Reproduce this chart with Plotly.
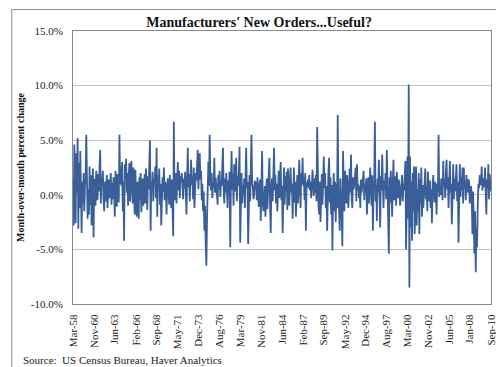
import pandas as pd
import plotly.graph_objects as go

# Monthly % change in manufacturers' new orders, Mar-1958 .. Sep-2010
start_month = "1958-03-01"
values = [
    1.5, -2.8, 4.6, 0.5, -2.6, 3.8, 0.2, 5.2, -3.1, 2.9, -1.2, 4.0,
    -2.0, -3.5, 1.2, -0.8, 2.0, -1.5, 0.8, 1.5, 5.5, -0.6, -2.2, 0.5,
    -1.8, 2.6, -0.9, 1.8, -2.8, 0.4, 2.4, -3.9, 1.5, 0.2, -1.0, 2.2,
    0.8, -0.5, 1.9, 0.3, 2.5, 4.1, -0.8, 1.6, 0.9, 2.2, -0.4, -1.5,
    1.2, -0.6, 0.8, 1.8, -1.2, 0.5, 1.4, -0.3, 0.9, 2.0, -0.9, 1.1,
    -0.4, 1.6, 0.3, -2.0, 2.2, 0.6, -1.1, 1.9, 0.4, -0.7, 5.5, 1.0,
    2.6, 0.8, 3.0, -1.5, 1.2, -4.2, 2.8, 1.5, 3.3, 0.2, 2.0, -1.0,
    1.8, 2.9, -0.6, 1.4, 3.1, 0.5, -0.8, 2.5, 1.0, -1.8, 2.3, 0.7,
    -2.0, 1.2, 0.3, -2.2, 1.6, -0.5, 2.0, -1.6, 0.8, 1.5, -1.0, 0.6,
    1.9, -0.8, 2.4, 0.2, -1.4, 1.7, 0.5, 2.8, 5.0, -3.3, 1.2, 0.4,
    2.1, -0.6, 1.5, 0.9, 2.6, -0.3, 4.3, -2.0, 1.8, 0.5, 2.4, -0.9,
    1.0, -2.8, 0.6, 1.6, 0.3, 2.5, -0.5, 1.2, 0.4, -1.8, 0.9, 1.5,
    0.2, -0.9, 1.8, 0.6, -1.2, 1.4, -0.4, -3.8, 6.7, -0.5, 1.3, 2.0,
    -0.8, 1.6, 3.0, 0.4, 2.2, -0.3, 1.7, 1.2, 2.0, 0.8, -0.4, 1.5,
    0.6, 2.1, -0.5, -1.8, 1.4, 4.3, 0.7, 1.9, -0.6, 2.4, 3.2, 0.9,
    1.7, -0.4, 2.5, -1.2, 0.8, 2.0, 1.3, 3.0, 4.1, 0.5, 2.6, 3.8,
    1.4, 2.2, -0.5, 1.0, -1.5, 0.3, -3.3, -1.0, -4.5, -6.5, -2.2, 1.8,
    3.0, 0.8, 5.5, 1.5, 0.4, 2.0, -0.3, 1.2, 0.6, 3.4, 0.2, 1.6,
    0.9, 0.3, -0.9, 1.8, 0.5, 2.2, -0.2, 1.1, 0.8, 2.6, 4.3, 0.6,
    -0.8, 1.5, 0.2, 2.0, -0.5, -1.2, 1.3, 0.4, 2.1, -4.8, 1.0, 4.0,
    0.5, 1.9, -1.0, 2.8, 0.3, 1.2, 3.4, -0.6, 1.7, 0.8, 2.2, 4.4,
    -4.4, 1.0, 2.0, -0.8, 0.9, 0.0, 1.5, -1.2, 2.5, 4.3, 0.6, 1.2,
    -4.5, 0.8, 1.8, -0.6, 2.2, 5.5, 1.0, 0.7, -0.4, 0.0, 1.3, 0.5,
    1.2, -0.5, 1.6, 0.3, -1.1, 0.9, 1.4, -2.4, 0.2, 4.0, -0.8, -1.5,
    -1.0, 0.8, -2.0, -0.4, 1.5, -1.3, 0.6, 2.0, 3.4, -0.9, -3.5, 0.7,
    1.5, -0.6, 2.4, 4.3, 0.4, 1.8, -0.8, 1.0, -1.5, 0.9, 2.2, -0.3,
    1.6, 3.0, -0.5, 0.8, -3.5, 1.2, 2.5, -0.9, 1.7, 0.3, 2.1, -1.4,
    2.4, 0.6, -1.0, 1.5, 2.5, 0.2, 1.0, -2.2, 0.9, 2.5, -0.7, 1.2,
    -2.0, 0.5, 1.8, -0.8, 1.3, 3.2, 0.4, -1.2, 2.0, 1.0, 3.4, 0.8,
    1.6, -0.5, 2.0, -3.3, 1.1, 0.9, 1.4, 0.6, 1.8, 0.4, 1.2, -0.3,
    0.8, 2.3, 1.0, -0.1, 1.5, 0.2, 1.8, -0.6, 6.2, 0.5, -1.0, -1.8,
    1.2, -2.5, 0.4, 1.9, -0.9, 1.5, 3.5, 0.6, 2.0, -1.2, 0.8, -3.3,
    0.5, 2.1, 3.4, -0.7, 1.6, -1.8, 0.9, -5.1, 0.3, 2.0, -1.5, 1.2,
    -2.5, 1.0, -1.2, 7.3, 0.4, -0.9, -3.3, 1.5, 0.2, -2.0, -4.7, 4.0,
    0.6, -1.5, 2.2, 0.3, -0.8, 1.8, 0.9, -1.2, 1.5, 2.4, 0.2, 3.7,
    -0.4, -1.2, 1.6, 0.5, 1.1, 2.0, 2.5, -0.6, 2.8, 0.4, 1.0, -0.3,
    0.8, -1.2, 1.4, 0.2, 0.9, 1.3, 2.2, -0.5, 1.0, 0.3, 1.5, -1.8,
    0.7, 1.6, -0.8, 1.2, 2.5, 0.4, -1.0, 1.8, -3.3, 0.6, 1.3, 6.7,
    -0.6, 0.9, -2.4, 1.5, 0.2, 3.2, -0.8, -3.0, 1.7, 0.4, 3.7, -0.9,
    -1.2, 1.3, 0.5, 2.0, -0.4, 4.1, 1.0, 0.3, -5.4, 1.6, -0.7, 2.2,
    0.4, -2.0, 1.2, 3.2, -0.5, 0.8, 1.7, -1.0, 2.1, 0.6, -0.3, 1.4,
    0.9, -1.0, 0.3, 1.2, 1.8, -0.6, 1.0, 0.4, 2.2, 3.1, -5.0, 0.8,
    3.5, -2.2, 10.1, -8.5, 3.5, -3.0, 1.2, -4.2, 2.0, -1.5, 2.6, -3.6,
    1.0, 2.6, -2.8, 0.5, -1.6, 2.0, -3.6, 1.4, -0.8, 2.5, -2.0, 0.9,
    -1.2, 0.6, 1.5, 2.4, -0.4, 0.8, -1.5, 2.1, 0.3, -0.6, 1.3, -1.2,
    0.5, -2.6, 0.9, 1.8, 0.2, -0.7, 1.2, 0.4, -1.8, 1.0, 0.3, 5.5,
    -0.2, 0.6, 0.0, 1.5, 1.2, -0.5, 3.1, 0.8, 1.4, -0.3, 2.0, 3.2,
    0.5, 1.6, -1.2, 0.9, 3.1, 0.2, 1.0, -2.7, 1.4, 2.8, -0.4, 1.5,
    0.3, 1.8, 2.8, -0.6, 1.2, -4.4, 0.7, 2.8, -0.2, 1.6, 0.4, 2.5,
    -0.8, 2.5, 0.6, 1.3, -0.5, 1.8, 0.9, 0.2, 1.4, 1.2, -0.8, 0.5,
    0.8, -0.5, -3.6, 0.3, -2.0, -5.4, -1.5, -7.1, -3.0, -4.8, -1.0, 1.0,
    0.6, 1.8, 0.9, 1.2, 2.6, 0.4, 1.0, 1.5, 0.7, 2.5, 0.3, -1.8,
    1.4, 0.6, 2.8, -0.4, 1.9, 0.8, 0.3,
]

tick_labels = ["Mar-58", "Nov-60", "Jun-63", "Feb-66", "Sep-68", "May-71", "Dec-73",
               "Aug-76", "Mar-79", "Nov-81", "Jun-84", "Feb-87", "Sep-89", "May-92",
               "Dec-94", "Aug-97", "Mar-00", "Nov-02", "Jun-05", "Jan-08", "Sep-10"]
y_ticks = [-10, -5, 0, 5, 10, 15]
y_tick_labels = ["-10.0%", "-5.0%", "0.0%", "5.0%", "10.0%", "15.0%"]

months = pd.date_range(start_month, periods=len(values), freq="MS").strftime("%b-%y").tolist()

W, H = 504, 367
L, R, T, B = 63, 21, 23, 71
pw, ph = W - L - R, H - T - B

def px(x):
    return (x - L) / pw

def py(y):
    return (H - B - y) / ph

fig = go.Figure()
fig.add_trace(go.Scatter(
    x=months, y=values, mode="lines",
    line=dict(color="#3A5F98", width=1.8),
    hoverinfo="skip", showlegend=False,
))

serif = "Liberation Serif, Times New Roman, serif"

fig.update_layout(
    width=W, height=H,
    margin=dict(l=L, r=R, t=T, b=B),
    paper_bgcolor="white",
    plot_bgcolor="rgba(0,0,0,0)",
    font=dict(family=serif, color="#222", size=11),
    title=dict(text="<b>Manufacturers' New Orders...Useful?</b>",
               x=px(250), xanchor="center", xref="paper",
               y=1 - 14 / H, yanchor="middle",
               font=dict(family=serif, size=14, color="#111")),
    xaxis=dict(type="category", range=[0, len(values) - 1],
               tickmode="array", tickvals=tick_labels, ticktext=tick_labels,
               tickangle=-90, showgrid=False, zeroline=False,
               showline=True, mirror=True, linecolor="#8a8a8a", linewidth=1,
               ticks="outside", ticklen=5, tickcolor="rgba(0,0,0,0)",
               tickfont=dict(family=serif, size=11, color="#222")),
    yaxis=dict(range=[-10, 15], tickmode="array", tickvals=y_ticks,
               ticktext=y_tick_labels,
               showgrid=True, gridcolor="#c4c4c4", gridwidth=1,
               zeroline=False, showline=True, mirror=True,
               linecolor="#8a8a8a", linewidth=1,
               ticks="outside", ticklen=7, tickcolor="rgba(0,0,0,0)",
               tickfont=dict(family=serif, size=11, color="#222"),
               title=dict(text="<b>Month-over-month percent change</b>",
                          font=dict(family=serif, size=10, color="#111"),
                          standoff=4)),
    shapes=[
        dict(type="rect", xref="paper", yref="paper", layer="below",
             x0=px(4), x1=px(503), y0=py(366), y1=py(4),
             fillcolor="#9a9a9a", line=dict(width=0)),
        dict(type="rect", xref="paper", yref="paper", layer="below",
             x0=px(1.5), x1=px(499.5), y0=py(362.5), y1=py(1.5),
             fillcolor="white", line=dict(color="#8c8c8c", width=1)),
    ],
    annotations=[
        dict(text="Source:  US Census Bureau, Haver Analytics",
             xref="paper", yref="paper", x=px(11), y=py(352),
             xanchor="left", yanchor="middle", showarrow=False,
             font=dict(family=serif, size=11, color="#222")),
    ],
)

fig.write_html("out.html")
